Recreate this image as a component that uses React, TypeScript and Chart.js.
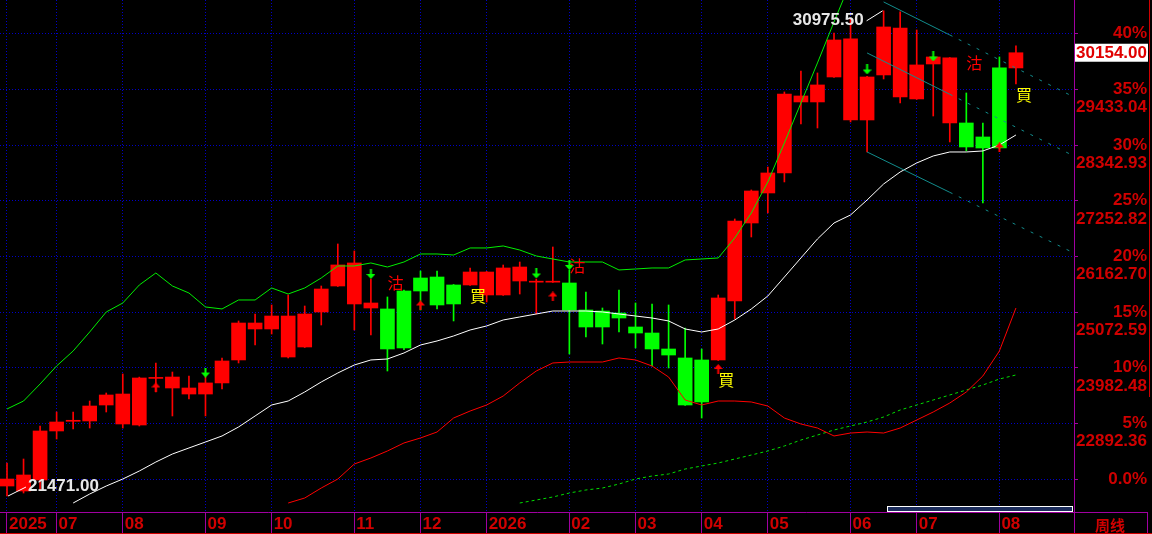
import { useEffect, useRef } from 'react';
import { Chart, registerables } from 'chart.js';

Chart.register(...registerables);

// ---------- x axis (weekly candles, index based) ----------
const monthTickIdx = [0, 3, 7, 12, 16, 21, 25, 29, 34, 38, 42, 46, 51, 55, 60];
const monthLabels = ['2025', '07', '08', '09', '10', '11', '12', '2026', '02', '03', '04', '05', '06', '07', '08'];

// ---------- weekly OHLC ----------
const opens = [
  21667, 21569, 21785, 22745, 22935, 22941, 23254, 22882, 22862, 23775,
  23587, 23469, 23469, 23686, 24136, 24743, 24743, 24194, 24390, 25076,
  25585, 25233, 25154, 25135, 25487, 25742, 25761, 25605, 25605, 25409,
  25409, 25683, 25660, 25660, 25644, 25115, 25095, 25056, 24782, 24664,
  24351, 24175, 24136, 24136, 25291, 26819, 27407, 27799, 29190, 29190,
  29679, 28837, 28837, 29719, 29288, 29249, 29934, 28778, 28778, 28504,
  29856, 29856,
];
const highs = [
  22118, 22196, 22843, 23117, 23117, 23332, 23489, 23861, 23800, 24077,
  23900, 23822, 23881, 24175, 24900, 25037, 25213, 25409, 25193, 25585,
  26408, 26271, 25722, 25370, 25507, 25879, 25879, 25615, 25938, 25870,
  25996, 26055, 25722, 26349, 25899, 25468, 25154, 25507, 25252, 25233,
  25213, 24762, 24351, 25409, 26898, 27466, 27916, 29386, 29797, 29758,
  30541, 30816, 29690, 30975.5, 30953, 30600, 30080, 30060, 29366, 28778,
  30071, 30287,
];
const lows = [
  21471, 21530, 21589, 22588, 22784, 22803, 23117, 22803, 22843, 23509,
  23039, 23372, 23039, 23567, 24077, 24429, 24645, 24175, 24380, 24821,
  25575, 24723, 24625, 23920, 24340, 25115, 25135, 24900, 25595, 25272,
  25400, 25428, 25037, 25655, 24253, 24586, 24449, 24684, 24371, 24018,
  23979, 23245, 22999, 24125, 24939, 26545, 27015, 27623, 28759, 28680,
  29670, 28798, 28210, 29640, 29170, 29240, 28915, 28406, 28230, 27211,
  28280, 29542,
];
const closes = [
  21804, 21883, 22745, 22921, 22941, 23234, 23450, 23469, 23783, 23783,
  23802, 23587, 23686, 24116, 24860, 24860, 24997, 24997, 25037, 25526,
  25997, 26036, 25252, 24351, 24371, 25487, 25213, 25233, 25859, 25859,
  25938, 25957, 25664, 25664, 25115, 24782, 24782, 24958, 24664, 24351,
  24233, 23254, 23313, 25350, 26858, 27446, 27799, 29346, 29307, 29523,
  30404, 30424, 29679, 30659, 30639, 29915, 30071, 30052, 28308, 28288,
  28288, 30154,
];

// ---------- indicator lines (value per week, starting index) ----------
const upperLineStart = 0;
const upperLine = [
  23176, 23332, 23665, 24018, 24312, 24684, 25076, 25252, 25605, 25840,
  25585, 25448, 25174, 25135, 25311, 25311, 25546, 25428, 25546, 25742,
  25977, 25977, 26036, 25957, 26055, 26212, 26212, 26192, 26330, 26330,
  26369, 26290, 26173, 26114, 26055, 26055, 26055, 25899, 25918, 25938,
  25938, 26095, 26114, 26134, 26526, 27015, 27623, 28387, 29170, 29954,
  30757, 31540,
];
const whiteLineStart = 4;
const whiteLine = [
  21334, 21510, 21667, 21804, 21961, 22137, 22294, 22412, 22529, 22647,
  22823, 23039, 23254, 23332, 23509, 23705, 23881, 24038, 24136, 24155,
  24273, 24429, 24508, 24606, 24723, 24802, 24919, 24978, 25037, 25095,
  25095, 25095, 25076, 25037, 24997, 24958, 24900, 24743, 24684, 24743,
  24919, 25135, 25389, 25761, 26134, 26506, 26819, 26976, 27270, 27583,
  27818, 27995, 28132, 28210, 28210, 28230, 28347, 28543,
];
const redLineStart = 17;
const redLine = [
  21334, 21432, 21628, 21804, 22098, 22216, 22353, 22510, 22608, 22725,
  22999, 23136, 23254, 23430, 23686, 23920, 24077, 24096, 24096, 24096,
  24175, 24136, 24018, 23802, 23352, 23254, 23332, 23332, 23313, 23234,
  22999, 22882, 22803, 22647, 22705, 22725, 22705, 22803, 22960, 23117,
  23293, 23509, 23822, 24312, 25154,
];
const dashLineStart = 31;
const dashLine = [
  21334, 21393, 21452, 21530, 21589, 21628, 21706, 21804, 21863, 21902,
  22000, 22059, 22118, 22196, 22274, 22353, 22451, 22568, 22666, 22764,
  22843, 22921, 23019, 23156, 23254, 23352, 23450, 23548, 23646, 23763,
  23842,
];

// ---------- descending channel ----------
const chanAX = [53, 57, 64.5];
const chanAY = [31149, 30502, 29288];
const chanBX = [52, 57, 64.5];
const chanBY = [30150, 29340, 28132];
const chanCX = [52, 57, 64.5];
const chanCY = [28210, 27420, 26232];
const chanDashFrom = 57;

// ---------- signals ----------
const downArrowIdx = [12, 22, 32, 34, 52, 56];
const downArrowPrice = [23890, 25820, 25830, 25997, 29826, 30081];
const upArrowIdx = [9, 25, 33, 43, 60];
const upArrowPrice = [23597, 25203, 25380, 23959, 28298];
const sellIdx = [23, 34, 58];
const sellPrice = [25644, 25977, 29954];
const buyIdx = [28, 43, 61];
const buyPrice = [25389, 23744, 29327];

// ---------- right axis ----------
const basePrice = 21802.25;
const pctLevels = [0, 5, 10, 15, 20, 25, 30, 35, 40];
const pctLabels = ['0.0%', '5%', '10%', '15%', '20%', '25%', '30%', '35%', '40%'];
const priceLabels = ['', '22892.36', '23982.48', '25072.59', '26162.70', '27252.82', '28342.93', '29433.04', '30523.16'];
const Y_MIN = 21158;
const Y_MAX = 31187;
const X_MIN = -0.423;
const X_MAX = 64.51;

const AXIS_RED = '#D00000';
const PURPLE = '#A000A0';
const GRID_BLUE = '#0000C8';
const FONT_NUM = 'Liberation Sans';

function makeArrow(color: string, up: boolean) {
  const c = document.createElement('canvas');
  c.width = 9;
  c.height = 10;
  const g = c.getContext('2d')!;
  g.fillStyle = color;
  g.beginPath();
  if (up) {
    g.moveTo(4.5, 0);
    g.lineTo(9, 5);
    g.lineTo(0, 5);
    g.closePath();
    g.fill();
    g.fillRect(3.5, 5, 2, 5);
  } else {
    g.moveTo(4.5, 10);
    g.lineTo(9, 5);
    g.lineTo(0, 5);
    g.closePath();
    g.fill();
    g.fillRect(3.5, 0, 2, 5);
  }
  return c;
}

const toPts = (arr: number[], start: number) => arr.map((v, k) => ({ x: start + k, y: v }));
const zipPts = (xs: number[], ys: number[]) => xs.map((x, k) => ({ x, y: ys[k] }));

export default function App() {
  const ref = useRef<HTMLCanvasElement>(null);

  useEffect(() => {
    const N = closes.length;
    const idx = Array.from({ length: N }, (_, i) => i);
    const events = [
      ...sellIdx.map((i) => ({ i, c: '#00FF00' })),
      ...buyIdx.map((i) => ({ i, c: '#FF0000' })),
    ].sort((a, b) => a.i - b.i);
    const colors = idx.map((i) => {
      let c = '#FF0000';
      events.forEach((e) => {
        if (e.i <= i) c = e.c;
      });
      return c;
    });

    const bodyData = idx.map((i) => ({ x: i, y: [Math.min(opens[i], closes[i]), Math.max(opens[i], closes[i])] }));
    const wickData = idx.map((i) => ({ x: i, y: [lows[i], highs[i]] }));

    const downArrow = makeArrow('#00FF00', false);
    const upArrow = makeArrow('#FF0000', true);

    const chanSeg = {
      borderDash: (ctx: any) => (ctx.p0.parsed.x >= chanDashFrom ? [3, 7] : undefined),
    };

    const overlay = {
      id: 'overlay',
      afterDatasetsDraw(chart: any) {
        const { ctx } = chart;
        const xs = chart.scales.x;
        const ys = chart.scales.y;
        ctx.save();
        // buy / sell glyphs
        ctx.font = '16px "Noto Sans CJK TC"';
        ctx.textAlign = 'left';
        ctx.textBaseline = 'middle';
        ctx.fillStyle = '#FF0000';
        sellIdx.forEach((i, k) => ctx.fillText('沽', xs.getPixelForValue(i), ys.getPixelForValue(sellPrice[k])));
        ctx.fillStyle = '#FFFF00';
        buyIdx.forEach((i, k) => ctx.fillText('買', xs.getPixelForValue(i), ys.getPixelForValue(buyPrice[k])));

        // highest / lowest markers
        let hi = 0;
        let lo = 0;
        highs.forEach((v, i) => { if (v > highs[hi]) hi = i; });
        lows.forEach((v, i) => { if (v < lows[lo]) lo = i; });
        ctx.strokeStyle = '#FFFFFF';
        ctx.lineWidth = 1;
        ctx.fillStyle = '#E8E8E8';
        ctx.font = `bold 17px "${FONT_NUM}"`;
        const hx = xs.getPixelForValue(hi);
        const hy = ys.getPixelForValue(highs[hi]);
        ctx.beginPath();
        ctx.moveTo(hx - 1, hy);
        ctx.lineTo(hx - 17, hy + 10);
        ctx.stroke();
        ctx.textAlign = 'right';
        ctx.fillText(highs[hi].toFixed(2), hx - 20, hy + 10);
        const lx = xs.getPixelForValue(lo);
        const ly = ys.getPixelForValue(lows[lo]);
        ctx.beginPath();
        ctx.moveTo(lx + 1, ly);
        ctx.lineTo(lx + 19, ly - 9);
        ctx.stroke();
        ctx.textAlign = 'left';
        ctx.fillText(lows[lo].toFixed(2), lx + 21, ly - 10);

        // scroll bar
        ctx.fillStyle = '#1C2D5C';
        ctx.fillRect(887, 506, 186, 5);
        ctx.strokeStyle = '#FFFFFF';
        ctx.strokeRect(887.5, 506.5, 185, 5);
        ctx.restore();
      },
      afterDraw(chart: any) {
        const { ctx, chartArea } = chart;
        const ys = chart.scales.y;
        ctx.save();
        ctx.lineWidth = 1;
        ctx.strokeStyle = PURPLE;
        ctx.beginPath();
        ctx.moveTo(chartArea.right, chartArea.bottom + 0.5);
        ctx.lineTo(1148, chartArea.bottom + 0.5);
        ctx.moveTo(chartArea.right + 0.5, chartArea.bottom);
        ctx.lineTo(chartArea.right + 0.5, 534);
        ctx.moveTo(1147.5, chartArea.bottom);
        ctx.lineTo(1147.5, 534);
        ctx.stroke();
        ctx.strokeStyle = '#D00000';
        ctx.beginPath();
        ctx.moveTo(0, 533.5);
        ctx.lineTo(1152, 533.5);
        ctx.moveTo(1149.5, 0);
        ctx.lineTo(1149.5, 397);
        ctx.stroke();
        ctx.fillStyle = AXIS_RED;
        ctx.font = 'bold 15px "Noto Sans CJK SC"';
        ctx.textAlign = 'left';
        ctx.textBaseline = 'middle';
        ctx.fillText('周线', 1095, 525);

        // last price box
        const last = closes[closes.length - 1];
        const py = ys.getPixelForValue(last);
        ctx.fillStyle = '#FFFFFF';
        ctx.fillRect(chartArea.right + 1, py - 9, 73, 18);
        ctx.fillStyle = '#E00000';
        ctx.font = `bold 17px "${FONT_NUM}"`;
        ctx.textAlign = 'right';
        ctx.fillText(last.toFixed(2), 1147, py + 0.5);
        ctx.restore();
      },
    };

    const chart = new Chart(ref.current!, {
      type: 'bar',
      data: {
        datasets: [
          {
            type: 'line',
            data: zipPts(downArrowIdx, downArrowPrice),
            showLine: false,
            pointStyle: downArrow,
            pointRadius: 5,
            order: 0,
          } as any,
          {
            type: 'line',
            data: zipPts(upArrowIdx, upArrowPrice),
            showLine: false,
            pointStyle: upArrow,
            pointRadius: 5,
            order: 0,
          } as any,
          {
            type: 'line',
            data: zipPts(chanAX, chanAY),
            borderColor: '#128C8C',
            borderWidth: 1,
            pointRadius: 0,
            segment: chanSeg,
            order: 1,
          } as any,
          {
            type: 'line',
            data: zipPts(chanBX, chanBY),
            borderColor: '#128C8C',
            borderWidth: 1,
            pointRadius: 0,
            segment: chanSeg,
            order: 1,
          } as any,
          {
            type: 'line',
            data: zipPts(chanCX, chanCY),
            borderColor: '#128C8C',
            borderWidth: 1,
            pointRadius: 0,
            segment: chanSeg,
            order: 1,
          } as any,
          {
            type: 'line',
            data: toPts(upperLine, upperLineStart),
            borderColor: '#00EE00',
            borderWidth: 1,
            pointRadius: 0,
            order: 1,
          } as any,
          {
            type: 'line',
            data: toPts(whiteLine, whiteLineStart),
            borderColor: '#FFFFFF',
            borderWidth: 1,
            pointRadius: 0,
            order: 1,
          } as any,
          {
            type: 'line',
            data: toPts(redLine, redLineStart),
            borderColor: '#FF0000',
            borderWidth: 1,
            pointRadius: 0,
            order: 1,
          } as any,
          {
            type: 'line',
            data: toPts(dashLine, dashLineStart),
            borderColor: '#00DD00',
            borderWidth: 1,
            borderDash: [3, 3],
            pointRadius: 0,
            order: 1,
          } as any,
          {
            type: 'bar',
            data: bodyData,
            backgroundColor: colors,
            borderWidth: 0,
            barThickness: 14,
            minBarLength: 1,
            grouped: false,
            order: 2,
          } as any,
          {
            type: 'bar',
            data: wickData,
            backgroundColor: colors,
            borderWidth: 0,
            barThickness: 1,
            grouped: false,
            order: 3,
          } as any,
        ],
      },
      options: {
        responsive: false,
        animation: false,
        events: [],
        layout: { padding: { left: 0, top: 0, bottom: 0, right: 5 }, autoPadding: false },
        plugins: { legend: { display: false }, tooltip: { enabled: false } },
        scales: {
          x: {
            type: 'linear',
            min: X_MIN,
            max: X_MAX,
            offset: false,
            afterBuildTicks: (s: any) => {
              s.ticks = monthTickIdx.map((v) => ({ value: v }));
            },
            afterFit: (s: any) => {
              s.height = 22;
              s.paddingLeft = 0;
              s.paddingRight = 0;
            },
            grid: {
              offset: false,
              color: GRID_BLUE,
              lineWidth: 1,
              tickColor: PURPLE,
              tickLength: 22,
              tickWidth: 1,
              tickBorderDash: [],
            },
            border: { display: true, color: PURPLE, width: 1, dash: [1, 2] },
            ticks: {
              autoSkip: false,
              maxRotation: 0,
              minRotation: 0,
              align: 'start',
              padding: -20,
              labelOffset: 2,
              color: AXIS_RED,
              font: { family: FONT_NUM, size: 17, weight: 'bold' },
              callback: (_v: any, i: number) => monthLabels[i],
            },
          },
          y: {
            type: 'linear',
            position: 'right',
            min: Y_MIN,
            max: Y_MAX,
            afterBuildTicks: (s: any) => {
              s.ticks = pctLevels.map((p) => ({ value: basePrice * (1 + p / 100) }));
            },
            afterFit: (s: any) => {
              s.width = 73;
              s.paddingTop = 0;
              s.paddingBottom = 0;
            },
            grid: {
              color: GRID_BLUE,
              lineWidth: 1,
              tickColor: PURPLE,
              tickLength: 4,
              tickWidth: 1,
              tickBorderDash: [],
            },
            border: { display: true, color: PURPLE, width: 1, dash: [1, 2] },
            ticks: {
              autoSkip: false,
              crossAlign: 'far',
              padding: 0,
              labelOffset: 9,
              color: AXIS_RED,
              font: { family: FONT_NUM, size: 17, weight: 'bold', lineHeight: 1.09 },
              callback: (_v: any, i: number) => [pctLabels[i], priceLabels[i]],
            },
          },
        },
      } as any,
      plugins: [overlay],
    });
    return () => chart.destroy();
  }, []);

  return (
    <div style={{ position: 'fixed', left: 0, top: 0, width: 1152, height: 534, background: '#000' }}>
      <canvas ref={ref} width={1152} height={534} style={{ display: 'block', width: 1152, height: 534 }} />
    </div>
  );
}
